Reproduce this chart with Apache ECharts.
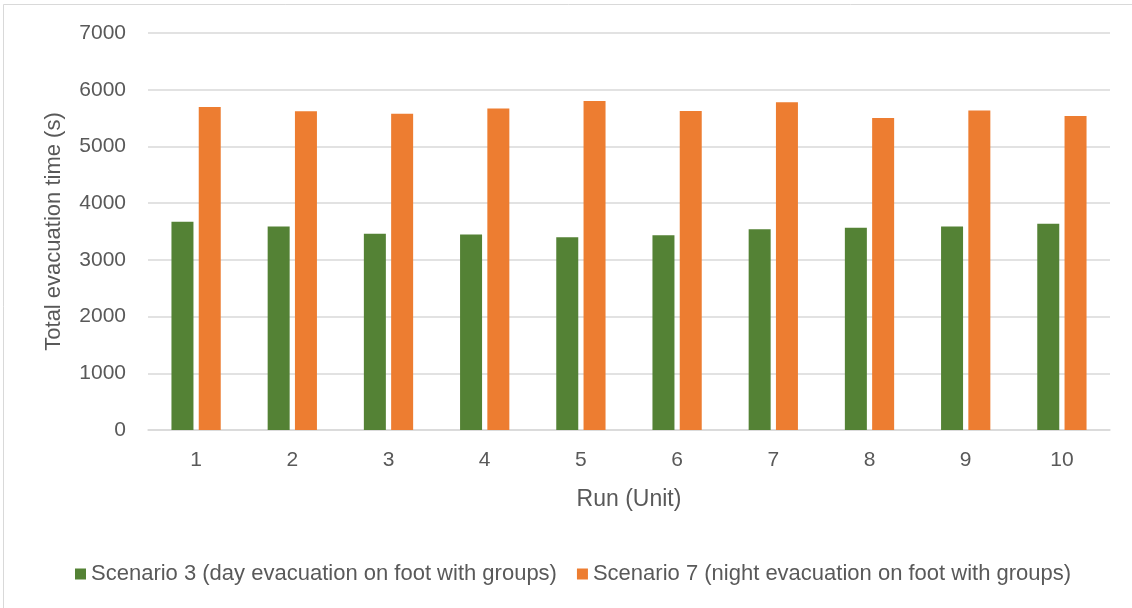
<!DOCTYPE html>
<html>
<head>
<meta charset="utf-8">
<script src="https://cdn.jsdelivr.net/npm/echarts@6/dist/echarts.min.js"></script>
<style>
  html, body { margin: 0; padding: 0; background: #fff; }
  #chart { width: 1132px; height: 608px; }
</style>
</head>
<body>
<div id="chart"></div>
<script>
// Total evacuation time per simulation run
const runs = ['1', '2', '3', '4', '5', '6', '7', '8', '9', '10'];
const scenario3Day = [3670, 3590, 3460, 3445, 3400, 3435, 3540, 3565, 3590, 3635];
const scenario7Night = [5695, 5620, 5575, 5670, 5800, 5625, 5780, 5500, 5635, 5535];
const seriesNames = [
  'Scenario 3 (day evacuation on foot with groups)',
  'Scenario 7 (night evacuation on foot with groups)'
];

const FONT = '"Liberation Sans", Arial, sans-serif';
const TEXT = '#595959';

const chart = echarts.init(document.getElementById('chart'), null, { renderer: 'canvas' });
chart.setOption({
  backgroundColor: '#fff',
  animation: false,
  textStyle: { fontFamily: FONT, color: TEXT },
  graphic: [{
    // chart-area frame
    type: 'rect',
    shape: { x: 3.5, y: 4.5, width: 1140, height: 620 },
    style: { fill: 'none', stroke: '#d9d9d9', lineWidth: 1 },
    silent: true
  }],
  grid: { left: 148, right: 22, top: 33, bottom: 178, containLabel: false },
  legend: {
    top: 558,
    left: 70,
    itemWidth: 11,
    itemHeight: 11,
    itemGap: 20,
    icon: 'rect',
    textStyle: { fontFamily: FONT, fontSize: 22, color: TEXT, padding: [0, 0, 0, 0] },
    data: seriesNames
  },
  xAxis: {
    type: 'category',
    data: runs,
    name: 'Run (Unit)',
    nameLocation: 'middle',
    nameGap: 58,
    nameTextStyle: { fontFamily: FONT, fontSize: 23, color: TEXT },
    axisLine: { lineStyle: { color: '#d9d9d9', width: 1.5 } },
    axisTick: { show: false },
    axisLabel: { fontFamily: FONT, fontSize: 21, color: TEXT, margin: 20 }
  },
  yAxis: {
    type: 'value',
    min: 0,
    max: 7000,
    interval: 1000,
    name: 'Total evacuation time (s)',
    nameLocation: 'middle',
    nameGap: 83,
    nameTextStyle: { fontFamily: FONT, fontSize: 22, color: TEXT },
    axisLine: { show: false },
    axisTick: { show: false },
    axisLabel: { fontFamily: FONT, fontSize: 21, color: TEXT, margin: 22, formatter: v => String(v) },
    splitLine: { lineStyle: { color: '#d9d9d9', width: 1.5 } }
  },
  series: [
    {
      name: seriesNames[0],
      type: 'bar',
      data: scenario3Day,
      barWidth: 22,
      barGap: '24%',
      itemStyle: { color: '#548235' }
    },
    {
      name: seriesNames[1],
      type: 'bar',
      data: scenario7Night,
      barWidth: 22,
      barGap: '24%',
      itemStyle: { color: '#ED7D31' }
    }
  ]
});
</script>
</body>
</html>
